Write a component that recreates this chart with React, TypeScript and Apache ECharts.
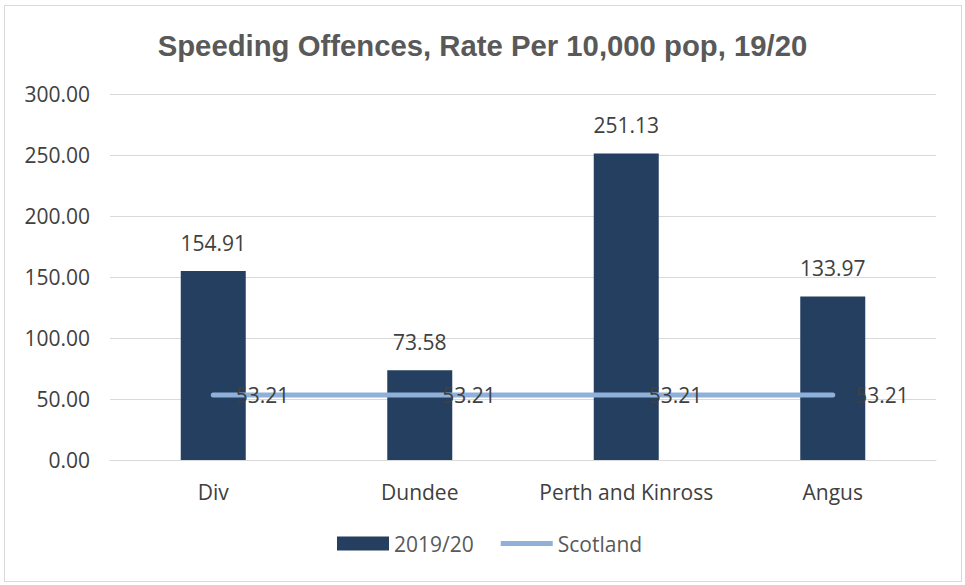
import React, { useEffect, useRef } from "react";
import * as echarts from "echarts";

const categories = ["Div", "Dundee", "Perth and Kinross", "Angus"];
const rateValues = [154.91, 73.58, 251.13, 133.97];
const scotlandValues = [53.21, 53.21, 53.21, 53.21];
const titleText = "Speeding Offences, Rate Per 10,000 pop, 19/20";

const FONT = "'Open Sans', 'Noto Sans', sans-serif";
const FS = 21;
const LINE_COLOR = "#8FB1D9";

export default function App() {
  const ref = useRef<HTMLDivElement>(null);
  useEffect(() => {
    if (!ref.current) return;
    const chart = echarts.init(ref.current, undefined, { renderer: "svg" });
    chart.setOption({
      animation: false,
      backgroundColor: "#ffffff",
      title: {
        text: titleText,
        left: "center",
        top: 26,
        textStyle: { fontFamily: "'Liberation Sans', Arial, sans-serif", fontWeight: "bold", fontSize: 29.3, color: "#595959" },
      },
      grid: { left: 110, right: 29, top: 94, bottom: 125 },
      legend: {
        bottom: 26,
        left: 332,
        itemGap: 27,
        itemWidth: 52,
        itemHeight: 14,
        textStyle: { fontFamily: FONT, fontSize: FS, color: "#595959" },
        data: [
          { name: "2019/20", icon: "rect" },
          { name: "Scotland", icon: "path://M0,0 L60,0 L60,6 L0,6 Z", itemStyle: { color: LINE_COLOR, opacity: 1 } },
        ],
      },
      xAxis: {
        type: "category",
        data: categories,
        axisLine: { lineStyle: { color: "#D9D9D9" } },
        axisTick: { show: false },
        axisLabel: { fontFamily: FONT, fontSize: FS, color: "#404040", margin: 21, interval: 0 },
      },
      yAxis: {
        type: "value",
        min: 0,
        max: 300,
        interval: 50,
        axisLine: { show: false },
        axisTick: { show: false },
        splitLine: { lineStyle: { color: "#D9D9D9", width: 1 } },
        axisLabel: {
          fontFamily: FONT,
          fontSize: FS,
          color: "#404040",
          margin: 20,
          formatter: (v: number) => v.toFixed(2),
        },
      },
      series: [
        {
          name: "2019/20",
          type: "bar",
          data: rateValues,
          barWidth: 65,
          itemStyle: { color: "#243F60" },
          label: {
            show: true,
            position: "top",
            distance: 18,
            fontFamily: FONT,
            fontSize: FS,
            color: "#404040",
            formatter: (p: any) => p.value.toFixed(2),
          },
        },
        {
          name: "Scotland",
          type: "line",
          data: scotlandValues,
          symbol: "circle",
          symbolSize: 1,
          showSymbol: true,
          z: 5,
          lineStyle: { color: LINE_COLOR, width: 5, cap: "round" },
          itemStyle: { color: LINE_COLOR },
          labelLayout: { hideOverlap: false },
          label: {
            show: true,
            position: "right",
            distance: 22,
            fontFamily: FONT,
            fontSize: FS,
            color: "#404040",
            formatter: (p: any) => p.value.toFixed(2),
          },
        },
      ],
    });
    return () => chart.dispose();
  }, []);
  return (
    <div
      style={{
        position: "fixed",
        left: 0,
        top: 0,
        width: 965,
        height: 585,
        background: "#fff",
      }}
    >
      <div ref={ref} style={{ position: "absolute", left: 0, top: 0, width: 965, height: 585 }} />
      <div
        style={{
          position: "absolute",
          left: 4,
          top: 5,
          width: 956,
          height: 575,
          border: "1px solid #D9D9D9",
          pointerEvents: "none",
        }}
      />
    </div>
  );
}
